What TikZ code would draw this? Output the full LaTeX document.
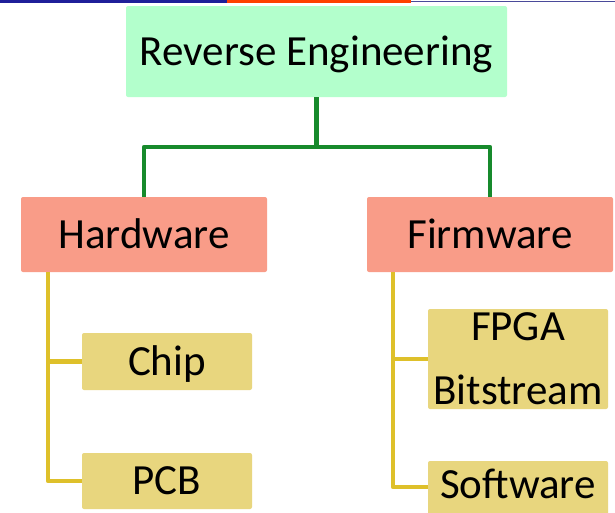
\documentclass[tikz,border=0pt]{standalone}
\usepackage{fontspec}
\setmainfont{Carlito}
\definecolor{rootfill}{HTML}{B3FFCC}
\definecolor{midfill}{HTML}{F99C88}
\definecolor{leaffill}{HTML}{E8D67E}
\definecolor{greenline}{HTML}{178A2C}
\definecolor{yellowline}{HTML}{DEC02A}
\definecolor{barblue}{HTML}{1F1F99}
\definecolor{barred}{HTML}{FF4000}
\definecolor{barthin}{HTML}{4A4A9A}
\tikzset{
  box/.style={rounded corners=2pt, inner sep=0pt, font=\fontsize{43}{51}\selectfont,
    text height=27.5pt, text depth=0pt},
  rootbox/.style={box, fill=rootfill},
  midbox/.style={box, fill=midfill},
  leafbox/.style={box, fill=leaffill},
  label/.style={inner sep=0pt, font=\fontsize{43}{51}\selectfont, text height=27.5pt, text depth=0pt},
  greenlink/.style={draw=greenline, line width=4.8pt},
  yellowlink/.style={draw=yellowline, line width=4.2pt}
}
\begin{document}
\begin{tikzpicture}[x=1pt,y=-1pt]
\useasboundingbox (0,0) rectangle (615,512);
\fill[white] (0,0) rectangle (615,512);
% header rule
\fill[barblue] (0,0) rectangle (227,3);
\fill[barred] (227,0) rectangle (411,3);
\fill[barthin] (411,1) rectangle (615,2.4);

% boxes
\node[rootbox, minimum width=381pt, minimum height=91pt] (root) at (316.5,51.5) {Reverse Engineering};
\node[midbox, minimum width=246pt, minimum height=75pt] (hw) at (144,234.5) {Hardware};
\node[midbox, minimum width=246pt, minimum height=75pt] (fw) at (490,234.5) {Firmware};
\node[leafbox, minimum width=170pt, minimum height=57pt] (chip) at (167,361.5) {Chip};
\node[leafbox, minimum width=170pt, minimum height=56pt] (pcb) at (167,481) {PCB};
\node[leafbox, minimum width=180pt, minimum height=100pt] (fpga) at (518,359) {};
\node[label] (fpgaA) at (518,327) {FPGA};
\node[label] (fpgaB) at (518,391) {Bitstream};
\node[leafbox, minimum width=180pt, minimum height=56pt] (sw) at (518,489) {};
\node[label] (swt) at (518,485) {Software};

% tree links: root to the two branches
\coordinate (gmid) at (316.5,147);
\draw[greenlink] (root.south) -- (gmid);
\draw[greenlink, line join=round] (hw.north) |- (gmid) -| (fw.north);

% branch stems and their leaves
\coordinate (hwstem) at (48,272);
\coordinate (fwstem) at (393,272);
\coordinate (swend) at (428,487);
\draw[yellowlink, line join=round] (hwstem) |- (pcb.west);
\draw[yellowlink] (hwstem |- chip.west) -- (chip.west);
\draw[yellowlink, line join=round] (fwstem) |- (swend);
\draw[yellowlink] (fwstem |- fpga.west) -- (fpga.west);
\end{tikzpicture}
\end{document}
